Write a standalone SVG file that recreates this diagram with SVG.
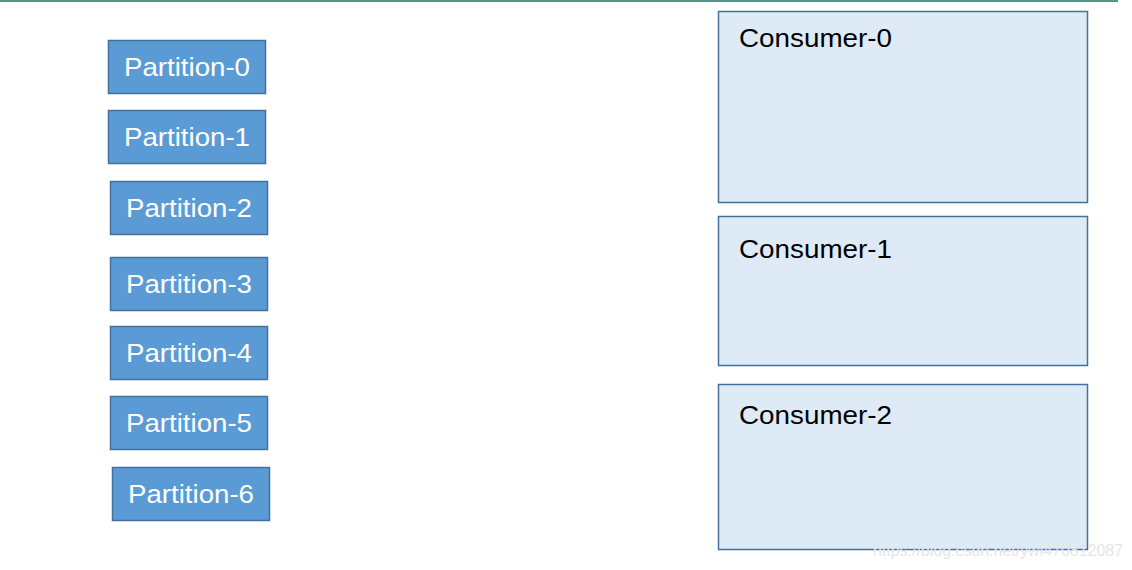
<svg xmlns="http://www.w3.org/2000/svg" width="1132" height="570" viewBox="0 0 1132 570">
<style>
.p rect{fill:#5b9bd5;stroke:#41719c;stroke-width:1.5}
.p text{fill:#fff;font-family:"Liberation Sans",Arial,sans-serif;font-size:26px;text-anchor:middle}
.c rect{fill:#deebf7;stroke:#41719c;stroke-width:1.5}
.c text{fill:#000;font-family:"Liberation Sans",Arial,sans-serif;font-size:26px}
</style>
<rect width="1132" height="570" fill="#fff"/>
<line x1="0" y1="1" x2="1118" y2="1" stroke="#4a9a88" stroke-width="2"/>
<g id="partition-0" class="p"><rect x="108.5" y="40.5" width="157" height="53"/><text x="187" y="76" textLength="126" lengthAdjust="spacingAndGlyphs">Partition-0</text></g>
<g id="partition-1" class="p"><rect x="108.5" y="110.5" width="157" height="53"/><text x="187" y="146" textLength="126" lengthAdjust="spacingAndGlyphs">Partition-1</text></g>
<g id="partition-2" class="p"><rect x="110.5" y="181.5" width="157" height="53"/><text x="189" y="217" textLength="126" lengthAdjust="spacingAndGlyphs">Partition-2</text></g>
<g id="partition-3" class="p"><rect x="110.5" y="257.5" width="157" height="53"/><text x="189" y="293" textLength="126" lengthAdjust="spacingAndGlyphs">Partition-3</text></g>
<g id="partition-4" class="p"><rect x="110.5" y="326.5" width="157" height="53"/><text x="189" y="362" textLength="126" lengthAdjust="spacingAndGlyphs">Partition-4</text></g>
<g id="partition-5" class="p"><rect x="110.5" y="396.5" width="157" height="53"/><text x="189" y="432" textLength="126" lengthAdjust="spacingAndGlyphs">Partition-5</text></g>
<g id="partition-6" class="p"><rect x="112.5" y="467.5" width="157" height="53"/><text x="191" y="503" textLength="126" lengthAdjust="spacingAndGlyphs">Partition-6</text></g>
<g id="consumer-0" class="c"><rect x="718.5" y="11.5" width="369" height="191"/><text x="739" y="47" textLength="153" lengthAdjust="spacingAndGlyphs">Consumer-0</text></g>
<g id="consumer-1" class="c"><rect x="718.5" y="216.5" width="369" height="149"/><text x="739" y="258" textLength="153" lengthAdjust="spacingAndGlyphs">Consumer-1</text></g>
<g id="consumer-2" class="c"><rect x="718.5" y="384.5" width="369" height="165"/><text x="739" y="424" textLength="153" lengthAdjust="spacingAndGlyphs">Consumer-2</text></g>
<g id="connectors"></g>
<text x="873" y="556" font-family="'Liberation Sans',Arial,sans-serif" font-size="16" fill="#e6e6e6" textLength="250" lengthAdjust="spacingAndGlyphs">https://blog.csdn.net/ywl470812087</text>
</svg>
